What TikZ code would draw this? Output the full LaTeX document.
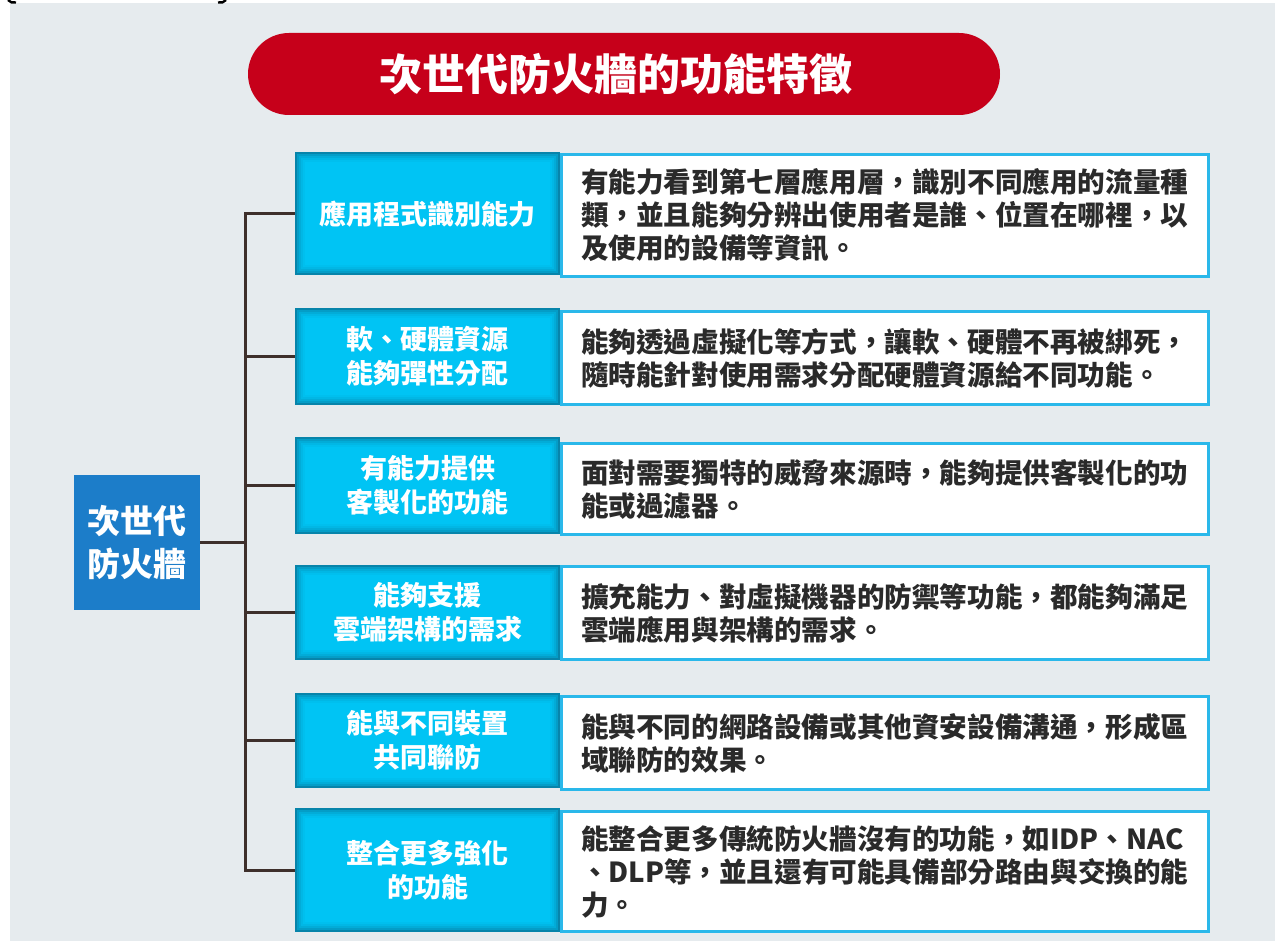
\documentclass[tikz,border=0pt]{standalone}
\usepackage{fontspec}
\setmainfont{Noto Sans CJK TC}
\newfontfamily\cjk{Noto Sans CJK TC}
\definecolor{bggrey}{HTML}{E6EBEE}
\definecolor{titlered}{HTML}{C6001A}
\definecolor{mainblue}{HTML}{1C7DC9}
\definecolor{cyanfill}{HTML}{00C4F4}
\definecolor{cyanedge}{HTML}{0A6F92}
\definecolor{boxborder}{HTML}{2AB8EA}
\definecolor{bodytext}{HTML}{2A2A2A}
\definecolor{connect}{HTML}{3E2F2B}
\tikzset{
  cyanbox/.style={anchor=north west, fill=cyanfill, inner sep=0pt, align=center,
    text=white, font=\cjk\bfseries\fontsize{27}{34}\selectfont,
    path picture={
      \foreach \d/\op in {1/0.75,3/0.45,5/0.28,7/0.15,9/0.06}{
        \draw[cyanedge, opacity=\op, line width=2pt]
          ([shift={(\d pt,-\d pt)}]path picture bounding box.north west) rectangle
          ([shift={(-\d pt,\d pt)}]path picture bounding box.south east);
      }}},
  descbox/.style={anchor=north west, fill=white, draw=boxborder, line width=3pt,
    inner xsep=18pt, inner ysep=0pt, align=left, text width=608pt,
    text=bodytext, font=\cjk\bfseries\fontsize{27.6}{33}\selectfont},
  conn/.style={draw=connect, line width=3pt},
}
\begin{document}
\begin{tikzpicture}[x=1pt,y=-1pt]
\useasboundingbox (0,0) rectangle (1275,941);
\fill[bggrey] (10,3) rectangle (1275,941);
\draw[black, line width=2.4pt] (8,0) to[out=-60,in=180] (16,2.5);
\draw[black, line width=2.4pt] (226,0) to[out=-120,in=0] (218,2.5);

\node[fill=titlered, rounded corners=41pt, minimum width=752pt, minimum height=82pt,
      inner sep=0pt, text=white, font=\cjk\bfseries\fontsize{43}{50}\selectfont]
  (title) at (624,74) {次世代防火牆的功能特徵\kern16pt};

\node[fill=mainblue, minimum width=126pt, minimum height=135pt, inner sep=0pt,
      align=center, text=white, font=\cjk\bfseries\fontsize{33}{43}\selectfont]
  (main) at (137,542) {次世代\\防火牆};

% cyan label boxes
\node[cyanbox, minimum width=265pt, minimum height=123pt] (c1) at (295,152) {應用程式識別能力};
\node[cyanbox, minimum width=265pt, minimum height=97pt] (c2) at (295,308) {軟、硬體資源\\能夠彈性分配};
\node[cyanbox, minimum width=265pt, minimum height=97pt] (c3) at (295,437) {有能力提供\\客製化的功能};
\node[cyanbox, minimum width=265pt, minimum height=95pt] (c4) at (295,565) {能夠支援\\雲端架構的需求};
\node[cyanbox, minimum width=265pt, minimum height=95pt] (c5) at (295,693) {能與不同裝置\\共同聯防};
\node[cyanbox, minimum width=265pt, minimum height=124pt] (c6) at (295,808) {整合更多強化\\的功能};

% description boxes
\node[descbox, minimum width=647pt, minimum height=122pt] (d1) at (560,153)
  {有能力看到第七層應用層，識別不同應用的流量種\\類，並且能夠分辨出使用者是誰、位置在哪裡，以\\及使用的設備等資訊。};
\node[descbox, minimum width=647pt, minimum height=93pt] (d2) at (560,310)
  {能夠透過虛擬化等方式，讓軟、硬體不再被綁死，\\隨時能針對使用需求分配硬體資源給不同功能。};
\node[descbox, minimum width=647pt, minimum height=91pt] (d3) at (560,442)
  {面對需要獨特的威脅來源時，能夠提供客製化的功\\能或過濾器。};
\node[descbox, minimum width=647pt, minimum height=93pt] (d4) at (560,565)
  {擴充能力、對虛擬機器的防禦等功能，都能夠滿足\\雲端應用與架構的需求。};
\node[descbox, minimum width=647pt, minimum height=93pt] (d5) at (560,695)
  {能與不同的網路設備或其他資安設備溝通，形成區\\域聯防的效果。};
\node[descbox, minimum width=647pt, minimum height=120pt] (d6) at (560,810)
  {能整合更多傳統防火牆沒有的功能，如IDP、NAC\\、DLP等，並且還有可能具備部分路由與交換的能\\力。};

% connectors
\coordinate (T) at (245,0);
\draw[conn] (c1.west) -- (c1.west -| T) -- (c6.west -| T) -- (c6.west);
\draw[conn] (main.east) -- (main.east -| T);
\draw[conn] (c2.west) -- (c2.west -| T);
\draw[conn] (c3.west) -- (c3.west -| T);
\draw[conn] (c4.west) -- (c4.west -| T);
\draw[conn] (c5.west) -- (c5.west -| T);
\end{tikzpicture}
\end{document}
